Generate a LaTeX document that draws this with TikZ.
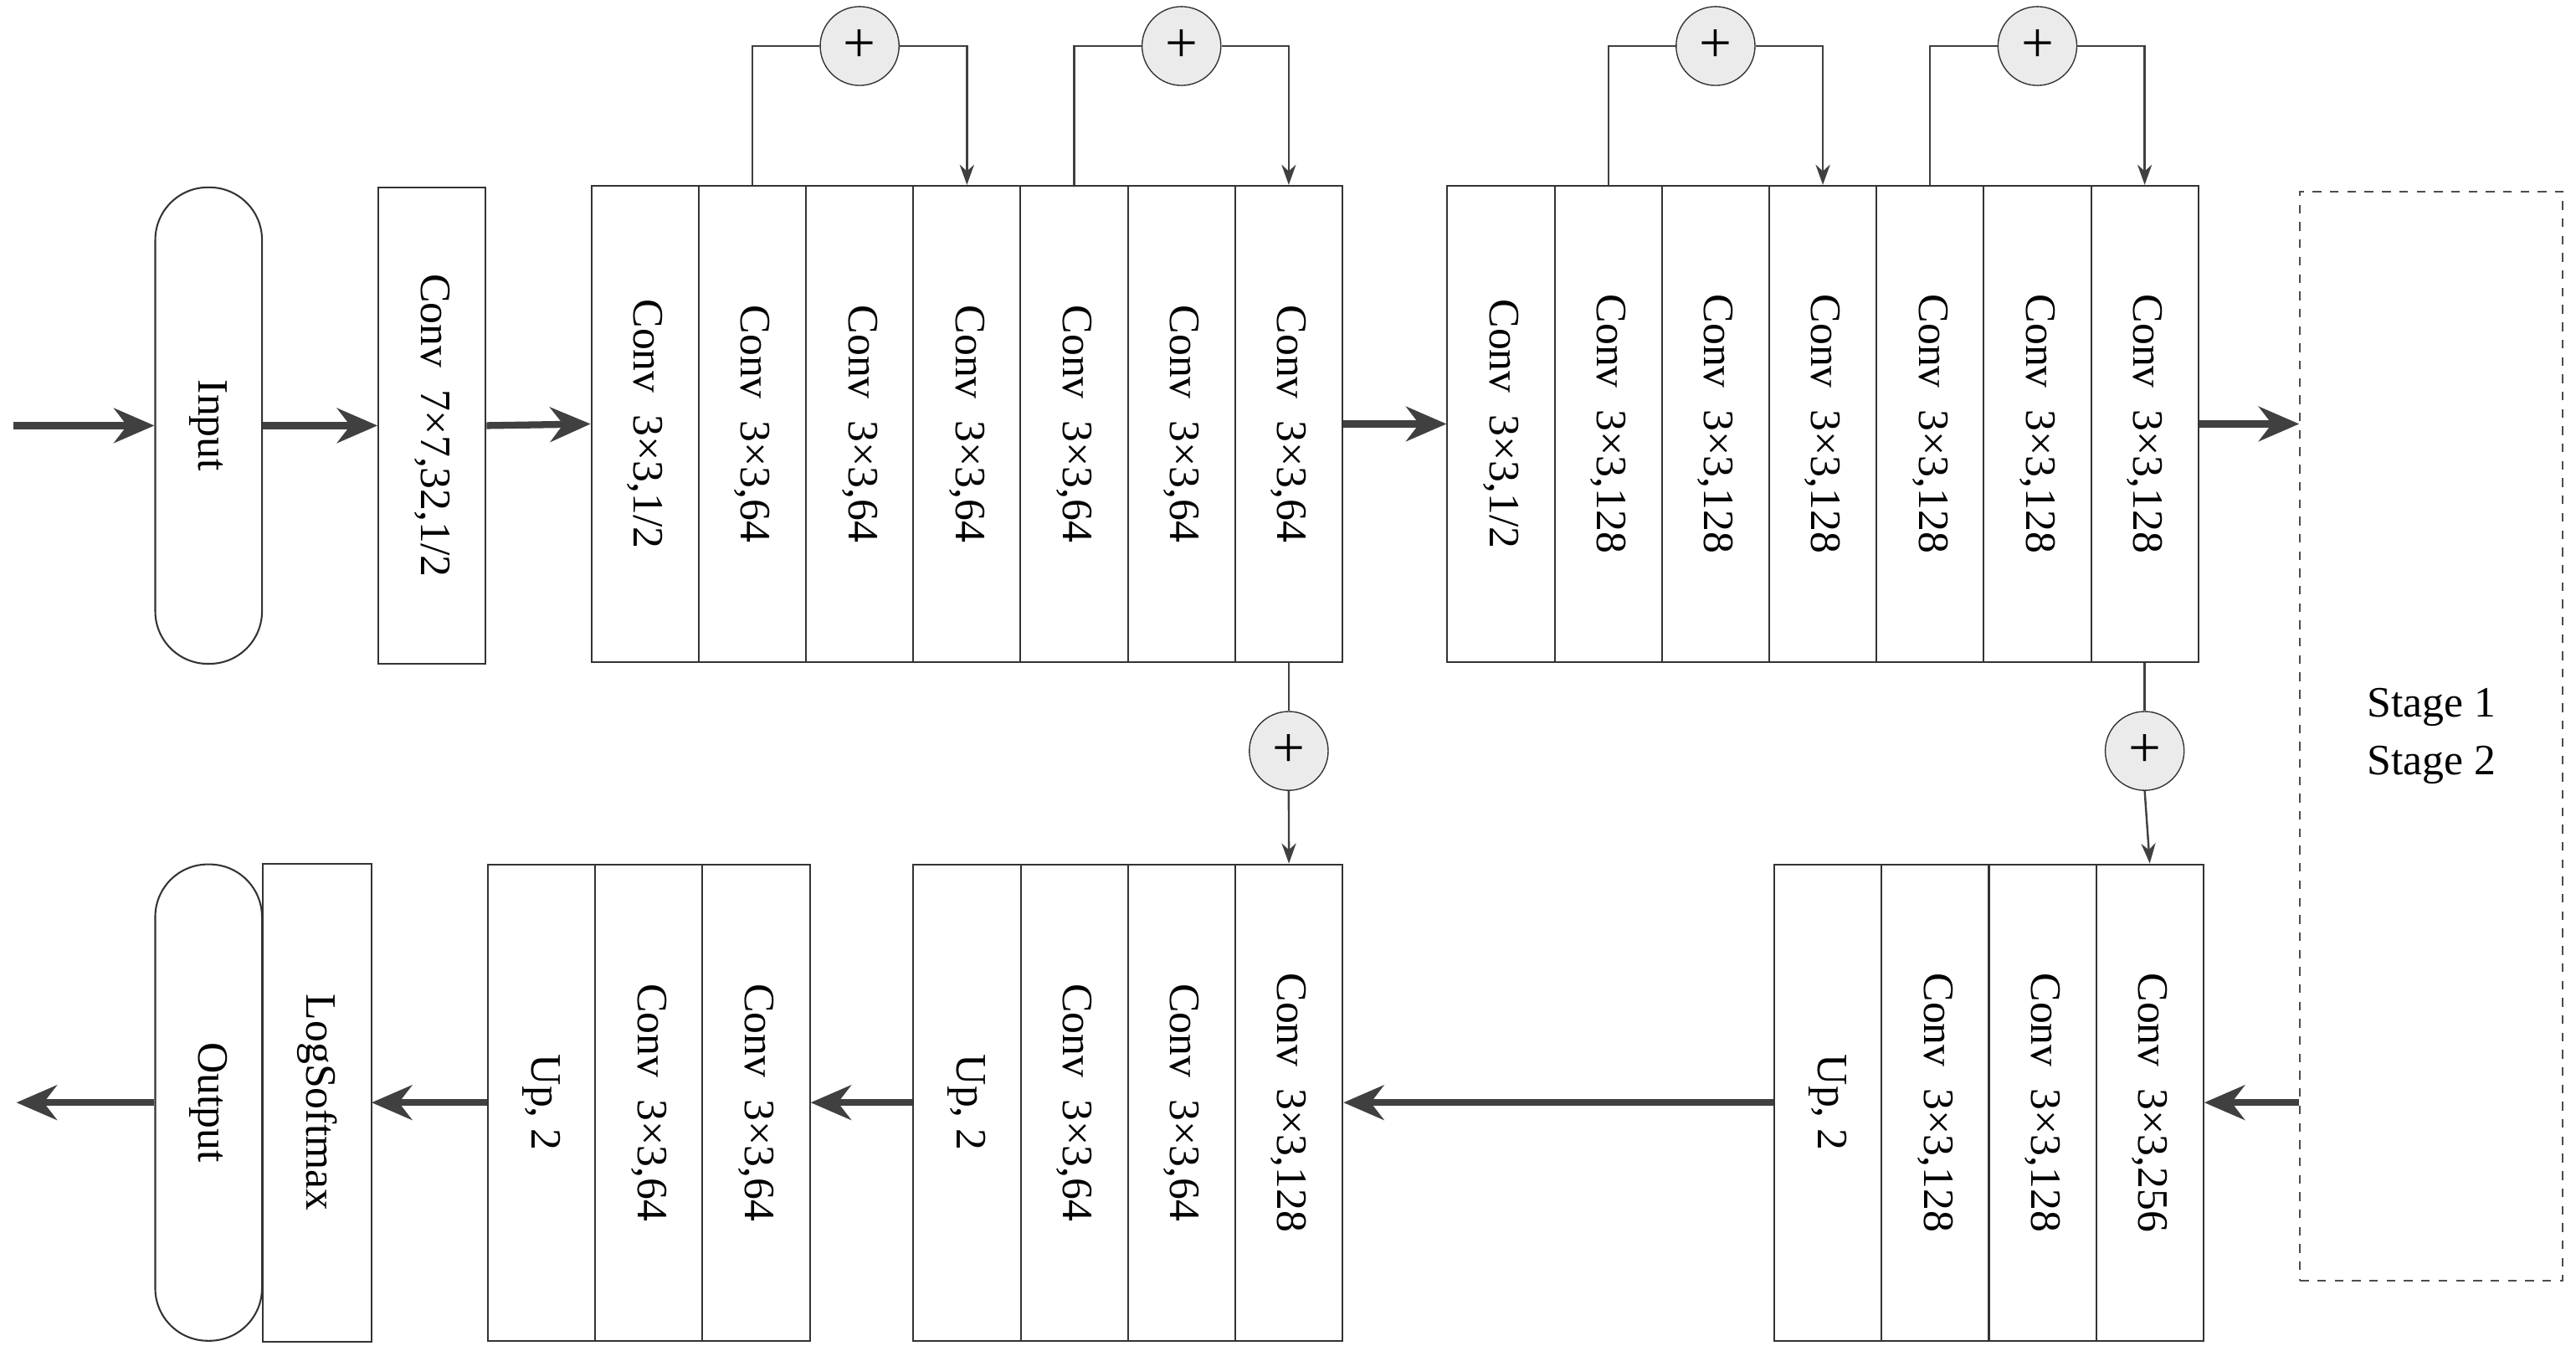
\documentclass[tikz,border=0pt]{standalone}
\usepackage{fontspec}
\setmainfont{Liberation Serif}
\usetikzlibrary{arrows.meta}
\begin{document}
\begin{tikzpicture}[x=0.02cm,y=-0.02cm,
  col/.style={draw=black!80, line width=0.6pt, fill=white, inner sep=0pt,
    minimum width=1.306cm, minimum height=5.8cm, font=\fontsize{15}{18}\selectfont},
  term/.style={draw=black!80, line width=0.6pt, rounded corners=0.64cm, inner sep=0pt,
    minimum width=1.3cm, minimum height=5.8cm, font=\fontsize{15}{18}\selectfont},
  plus/.style={circle, draw=black!80, fill=black!8, inner sep=0pt, minimum size=0.96cm,
    font=\fontsize{20}{20}\selectfont},
  arr/.style={-{Stealth[length=14pt,width=12pt]}, line width=2.4pt, draw=black!75},
  skip/.style={line width=0.7pt, draw=black!75},
  skipa/.style={skip, -{Stealth[length=7pt,width=5pt]}}
]
\useasboundingbox (0,0) rectangle (1568,822);
\newcommand{\rt}[1]{\rotatebox{-90}{#1}}
% top row
\node[term] (in) at (127,259) {\rt{Input}};
\node[col] (c7) at (263,259) {\rt{Conv\ \ 7×7,32,1/2}};
\foreach \i/\t in {1/{Conv\ \ 3×3,1/2},2/{Conv\ \ 3×3,64},3/{Conv\ \ 3×3,64},4/{Conv\ \ 3×3,64},5/{Conv\ \ 3×3,64},6/{Conv\ \ 3×3,64},7/{Conv\ \ 3×3,64}}
  \node[col] (a\i) at ({360+65.3*(\i-0.5)},258) {\rt{\t}};
\foreach \i/\t in {1/{Conv\ \ 3×3,1/2},2/{Conv\ \ 3×3,128},3/{Conv\ \ 3×3,128},4/{Conv\ \ 3×3,128},5/{Conv\ \ 3×3,128},6/{Conv\ \ 3×3,128},7/{Conv\ \ 3×3,128}}
  \node[col] (b\i) at ({881+65.3*(\i-0.5)},258) {\rt{\t}};
\node[draw=black!70, dashed, line width=0.6pt, minimum width=3.2cm, minimum height=13.26cm,
  align=center, font=\fontsize{15}{20}\selectfont] (stage) at (1480,448) {Stage 1\\Stage 2};
% bottom row
\foreach \i/\t in {1/{Up, 2},2/{Conv\ \ 3×3,128},3/{Conv\ \ 3×3,128},4/{Conv\ \ 3×3,256}}
  \node[col] (c\i) at ({1080+65.3*(\i-0.5)},671) {\rt{\t}};
\foreach \i/\t in {1/{Up, 2},2/{Conv\ \ 3×3,64},3/{Conv\ \ 3×3,64},4/{Conv\ \ 3×3,128}}
  \node[col] (d\i) at ({556+65.3*(\i-0.5)},671) {\rt{\t}};
\foreach \i/\t in {1/{Up, 2},2/{Conv\ \ 3×3,64},3/{Conv\ \ 3×3,64}}
  \node[col] (e\i) at ({297+65.3*(\i-0.5)},671) {\rt{\t}};
\node[col] (ls) at (193,671) {\rt{LogSoftmax}};
\node[term, anchor=east] (out) at (160,671) {\rt{Output}};
\draw[draw=black!80, line width=0.6pt, fill=white] (ls.north west) rectangle (ls.south east);
\node[font=\fontsize{15}{18}\selectfont] at (ls) {\rt{LogSoftmax}};
% main arrows
\coordinate (s0) at (8,259);
\coordinate (s9) at (10,671);
\draw[arr] (s0) -- (in.west);
\draw[arr] (in.east) -- (c7.west);
\draw[arr] (c7.east) -- (a1.west);
\draw[arr] (a7.east) -- (b1.west);
\draw[arr] (b7.east) -- (stage.west |- b7);
\draw[arr] (stage.west |- c4) -- (c4.east);
\draw[arr] (c1.west) -- (d4.east);
\draw[arr] (d1.west) -- (e3.east);
\draw[arr] (e1.west) -- (ls.east);
\draw[arr] (out.west) -- (s9);
% skip connections
\node[plus] (p1) at (a3 |- 0,28) {+};
\node[plus] (p2) at (a6 |- 0,28) {+};
\node[plus] (p3) at (b3 |- 0,28) {+};
\node[plus] (p4) at (b6 |- 0,28) {+};
\node[plus] (p5) at (a7 |- 0,457) {+};
\node[plus] (p6) at (b7 |- 0,457) {+};
\draw[skip] (a2.north) |- (p1.west); \draw[skipa] (p1.east) -| (a4.north);
\draw[skip] (a5.north) |- (p2.west); \draw[skipa] (p2.east) -| (a7.north);
\draw[skip] (b2.north) |- (p3.west); \draw[skipa] (p3.east) -| (b4.north);
\draw[skip] (b5.north) |- (p4.west); \draw[skipa] (p4.east) -| (b7.north);
\draw[skip] (a7.south) -- (p5.north); \draw[skipa] (p5.south) -- (d4.north);
\draw[skip] (b7.south) -- (p6.north); \draw[skipa] (p6.south) -- (c4.north);
\end{tikzpicture}
\end{document}
